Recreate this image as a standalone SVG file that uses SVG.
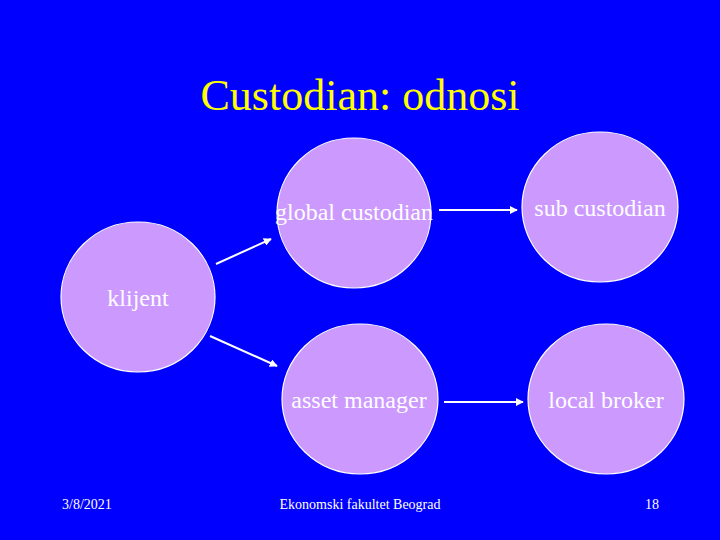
<svg xmlns="http://www.w3.org/2000/svg" width="720" height="540" viewBox="0 0 720 540">
<style>
.node ellipse{fill:#CC99FF;stroke:#FFFFFF;stroke-width:1.2}
.lbl{font-family:"Liberation Serif","Times New Roman",serif;font-size:24px;fill:#FFFFFF;text-anchor:middle}
.foot{font-family:"Liberation Serif","Times New Roman",serif;font-size:14px;fill:#FFFFFF}
.conn line{stroke:#FFFFFF;stroke-width:2;marker-end:url(#ah)}
</style>
<defs>
<marker id="ah" viewBox="0 0 10 10" refX="9" refY="5" markerWidth="4" markerHeight="4" orient="auto" markerUnits="strokeWidth">
<path d="M0,0 L10,5 L0,10 z" fill="#FFFFFF"/>
</marker>
</defs>
<rect x="0" y="0" width="720" height="540" fill="#0000FF"/>
<text x="360" y="110" font-family="'Liberation Serif','Times New Roman',serif" font-size="44" fill="#FFFF00" text-anchor="middle">Custodian: odnosi</text>
<g id="klijent" class="node"><ellipse cx="138" cy="297" rx="77" ry="75"/><text class="lbl" x="138" y="306">klijent</text></g>
<g id="global-custodian" class="node"><ellipse cx="354" cy="213" rx="77" ry="75"/><text class="lbl" x="354" y="220">global custodian</text></g>
<g id="sub-custodian" class="node"><ellipse cx="600" cy="207" rx="78" ry="75"/><text class="lbl" x="600" y="216">sub custodian</text></g>
<g id="asset-manager" class="node"><ellipse cx="360" cy="399" rx="78" ry="75"/><text class="lbl" x="359" y="408">asset manager</text></g>
<g id="local-broker" class="node"><ellipse cx="606" cy="399" rx="78" ry="75"/><text class="lbl" x="606" y="408">local broker</text></g>
<g id="connectors" class="conn">
<line x1="216" y1="264" x2="271" y2="239"/>
<line x1="210" y1="336" x2="277" y2="366"/>
<line x1="439" y1="210" x2="517" y2="210"/>
<line x1="444" y1="402" x2="523" y2="402"/>
</g>
<text class="foot" x="62" y="509">3/8/2021</text>
<text class="foot" x="360" y="509" text-anchor="middle">Ekonomski fakultet Beograd</text>
<text class="foot" x="652" y="509" text-anchor="middle">18</text>
</svg>
